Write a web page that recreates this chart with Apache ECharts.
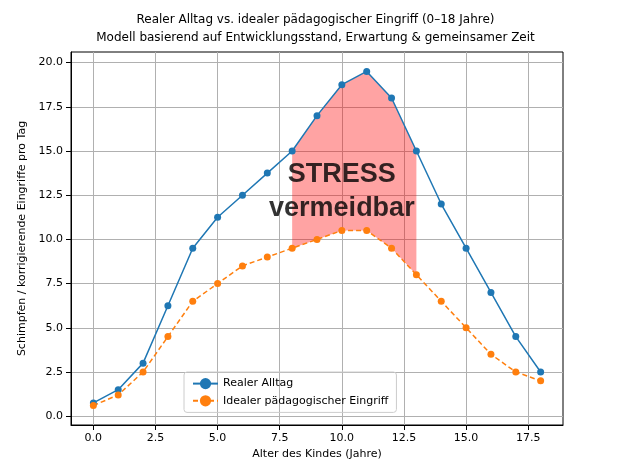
<!DOCTYPE html>
<html><head><meta charset="utf-8">
<script src="https://cdn.jsdelivr.net/npm/echarts@6/dist/echarts.min.js"></script>
<style>body{margin:0;background:#fff}#c{width:631px;height:476px}</style>
</head><body><div id="c"></div>
<script>
var ages=[0,1,2,3,4,5,6,7,8,9,10,11,12,13,14,15,16,17,18];
var realValues=[0.75,1.5,3,6.25,9.5,11.25,12.5,13.75,15,17,18.75,19.5,18,15,12,9.5,7,4.5,2.5];
var idealValues=[0.6,1.2,2.5,4.5,6.5,7.5,8.5,9,9.5,10,10.5,10.5,9.5,8,6.5,5,3.5,2.5,2];
var stressFrom=8, stressTo=13;
var xTicks=[0,2.5,5,7.5,10,12.5,15,17.5];
var yTicks=[0,2.5,5,7.5,10,12.5,15,17.5,20];

var font='DejaVu Sans';
var pairs=function(v){return ages.map(function(a,i){return [a,v[i]];});};
var band=[];
ages.forEach(function(a,i){
 if(a>=stressFrom&&a<=stressTo) band.push([a,realValues[i],idealValues[i]]);
});
var chart=echarts.init(document.getElementById('c'));
chart.setOption({
 animation:false,
 textStyle:{fontFamily:font},
 title:{text:'Realer Alltag vs. idealer pädagogischer Eingriff (0–18 Jahre)\nModell basierend auf Entwicklungsstand, Erwartung & gemeinsamer Zeit',
  left:'center',top:6,textStyle:{fontFamily:font,fontSize:12,fontWeight:'normal',color:'#000',lineHeight:18}},
 grid:{left:71,right:68,top:52,bottom:51,show:true,borderColor:'#000',borderWidth:1},
 legend:{orient:'vertical',left:184,top:372,borderColor:'#ccc',borderWidth:1,borderRadius:3,padding:[6,8],itemGap:6,
  textStyle:{fontFamily:font,fontSize:11,color:'#000'},
  data:['Realer Alltag','Idealer pädagogischer Eingriff']},
 xAxis:{type:'value',min:-0.9,max:18.9,name:'Alter des Kindes (Jahre)',nameLocation:'middle',nameGap:24,
  nameTextStyle:{fontFamily:font,fontSize:11,color:'#000'},
  axisLine:{onZero:false,lineStyle:{color:'#000'}},
  axisTick:{customValues:xTicks,lineStyle:{color:'#000'}},
  axisLabel:{customValues:xTicks,color:'#000',fontSize:11,formatter:function(v){return v.toFixed(1);}},
  splitLine:{show:true,lineStyle:{color:'#b0b0b0'}}},
 yAxis:{type:'value',min:-0.5,max:20.6,name:'Schimpfen / korrigierende Eingriffe pro Tag',nameLocation:'middle',nameGap:42,
  nameTextStyle:{fontFamily:font,fontSize:11,color:'#000'},
  axisLine:{show:true,onZero:false,lineStyle:{color:'#000'}},
  axisTick:{show:true,customValues:yTicks,lineStyle:{color:'#000'}},
  axisLabel:{customValues:yTicks,color:'#000',fontSize:11,formatter:function(v){return v.toFixed(1);}},
  splitLine:{show:true,lineStyle:{color:'#b0b0b0'}}},
 series:[
  {type:'custom',silent:true,z:1,data:band,
   renderItem:function(params,api){
    if(params.dataIndex!==0) return;
    var top=band.map(function(d){return api.coord([d[0],d[1]]);});
    var bot=band.map(function(d){return api.coord([d[0],d[2]]);}).reverse();
    return {type:'polygon',shape:{points:top.concat(bot)},style:{fill:'rgba(255,0,0,0.36)'}};
   }},
  {name:'Realer Alltag',type:'line',data:pairs(realValues),color:'#1f77b4',symbol:'circle',symbolSize:7,
   lineStyle:{width:1.5},z:3},
  {name:'Idealer pädagogischer Eingriff',type:'line',data:pairs(idealValues),color:'#ff7f0e',symbol:'circle',symbolSize:7,
   lineStyle:{width:1.5,type:[5,3]},z:3},
  {type:'scatter',data:[[10,12.7]],symbolSize:0,silent:true,z:5,
   label:{show:true,position:'inside',formatter:'STRESS\nvermeidbar',fontFamily:'Liberation Sans',fontWeight:'bold',fontSize:27,color:'#000',lineHeight:34}}
 ]
});
</script></body></html>
